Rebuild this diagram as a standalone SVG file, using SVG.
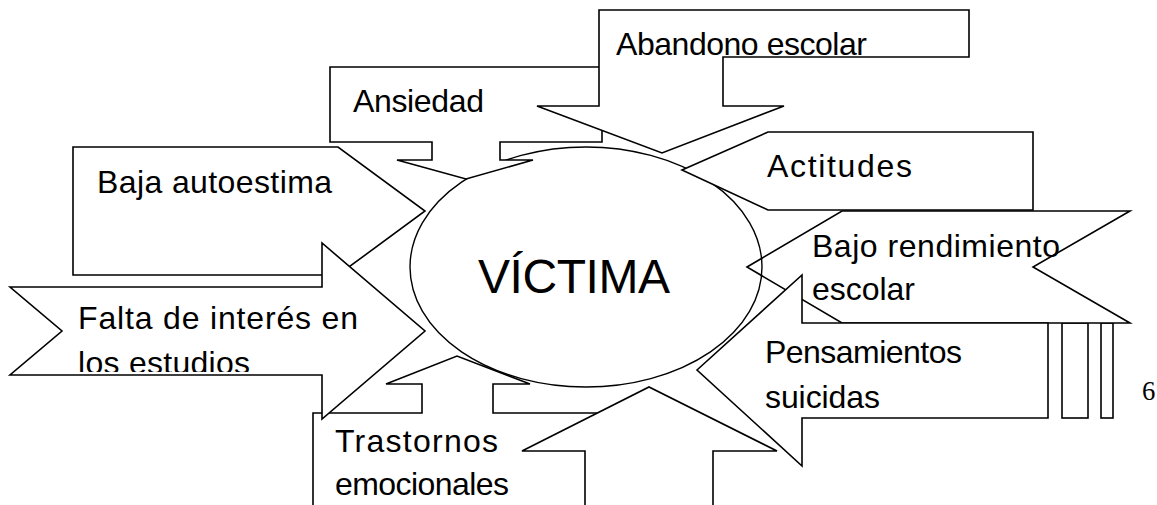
<svg xmlns="http://www.w3.org/2000/svg" width="1157" height="505" viewBox="0 0 1157 505">
<style>
.shape{fill:#fff;stroke:#000;stroke-width:1.6;stroke-linejoin:miter}
.open{fill:none;stroke:#000;stroke-width:1.4}
.lbl{font-family:"Liberation Sans",Arial,sans-serif;font-size:32px;fill:#000}
.big{font-family:"Liberation Sans",Arial,sans-serif;font-size:48px;fill:#000}
.num{font-family:"Liberation Serif","Times New Roman",serif;font-size:26.7px;fill:#000}
</style>
<defs>
<clipPath id="clipFalta"><rect x="0" y="280" width="430" height="92"/></clipPath>
</defs>
<rect width="1157" height="505" fill="#fff"/>
<g id="bars">
<rect class="shape" x="1062" y="323" width="26" height="95"/>
<rect class="shape" x="1101" y="323" width="12" height="95"/>
</g>
<g id="bajo-rendimiento">
<polygon class="shape" points="747,267 842,211 1130,211 1033,267 1130,323 842,323"/>
<text class="lbl" x="812" y="257" textLength="248" lengthAdjust="spacing">Bajo rendimiento</text>
<text class="lbl" x="812" y="300" textLength="103" lengthAdjust="spacing">escolar</text>
</g>
<g id="victima">
<ellipse class="open" cx="586" cy="267" rx="176" ry="120"/>
<text class="big" x="478" y="293" textLength="192" lengthAdjust="spacing">VÍCTIMA</text>
</g>
<g id="actitudes">
<polygon class="shape" points="682,170 768,132 1033,132 1033,210 768,210"/>
<text class="lbl" x="767" y="177" textLength="145" lengthAdjust="spacing">Actitudes</text>
</g>
<g id="ansiedad">
<polygon class="shape" points="330,67 602,67 602,142 500,142 500,160 533,160 466,179 397,160 432,160 432,142 330,142"/>
<text class="lbl" x="353" y="112" textLength="131" lengthAdjust="spacing">Ansiedad</text>
</g>
<g id="abandono-escolar">
<polygon class="shape" points="599,10 969,10 969,57 723,57 723,106 784,106 662,153 537,106 599,106"/>
<text class="lbl" x="616" y="55" textLength="251" lengthAdjust="spacing">Abandono escolar</text>
</g>
<g id="baja-autoestima">
<polygon class="shape" points="73,147 338,147 425,211 338,275 73,275"/>
<text class="lbl" x="97" y="193" textLength="235" lengthAdjust="spacing">Baja autoestima</text>
</g>
<g id="trastornos-emocionales">
<polygon class="shape" points="313,413 422,413 422,384 386,384 457,356 530,384 493,384 493,413 602,413 602,520 313,520"/>
<text class="lbl" x="335" y="452" textLength="163" lengthAdjust="spacing">Trastornos</text>
<text class="lbl" x="335" y="495" textLength="174" lengthAdjust="spacing">emocionales</text>
</g>
<g id="falta-interes">
<polygon class="shape" points="10,287 322,287 322,243 425,331 322,419 322,375 10,375 62,331"/>
<text class="lbl" x="78" y="329" textLength="280" lengthAdjust="spacing">Falta de interés en</text>
<text class="lbl" x="78" y="374" textLength="172" lengthAdjust="spacing" clip-path="url(#clipFalta)">los estudios</text>
</g>
<g id="flecha-inferior">
<polygon class="shape" points="585,520 585,451 522,451 649,387 777,451 713,451 713,520"/>
</g>
<g id="pensamientos-suicidas">
<polygon class="shape" points="697,370 802,275 802,323 1048,323 1048,418 802,418 802,466"/>
<text class="lbl" x="765" y="363" textLength="197" lengthAdjust="spacing">Pensamientos</text>
<text class="lbl" x="765" y="408" textLength="115" lengthAdjust="spacing">suicidas</text>
</g>
<g id="connectors"/>
<text class="num" x="1142" y="400">6</text>
</svg>
